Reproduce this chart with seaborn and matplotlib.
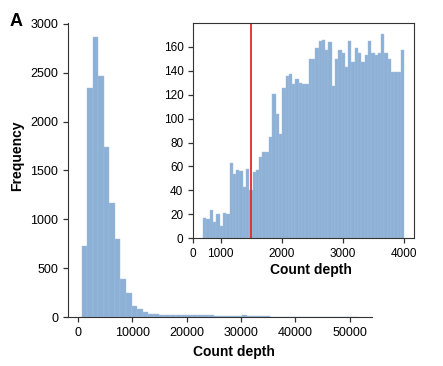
import numpy as np
import pandas as pd
import seaborn as sns
from matplotlib import pyplot as plt

# main histogram: 50 bins of ~1016 reads starting at 716
main_bin_start = 716
main_bin_end = 51516
main_counts = [731, 2347, 2863, 2462, 1735, 1166, 802, 394, 248, 119,
               85, 50, 35, 30, 25, 22, 22, 22, 28, 28,
               24, 22, 20, 20, 18, 18, 16, 16, 18, 20,
               14, 12, 14, 12, 8, 6, 4, 3, 3, 2,
               2, 2, 1, 1, 1, 1, 1, 1, 0, 1]

# inset: cells with count depth <= 4000
inset_bin_start = 716
inset_bin_end = 4000
inset_counts = [17, 16, 24, 14, 20, 10, 21, 20, 63, 54, 57, 56, 43, 58, 40,
                55, 57, 68, 72, 72, 85, 121, 104, 87, 126, 136,
                137, 129, 133, 130, 129, 129, 150, 150, 159, 165, 166, 157,
                164, 127, 150, 157, 155, 143, 165, 147, 159, 155, 147, 153,
                165, 155, 153, 155, 171, 155, 150, 139, 139, 139, 157]
cutoff = 1500

main_ticks_x = [0, 10000, 20000, 30000, 40000, 50000]
main_ticks_y = [0, 500, 1000, 1500, 2000, 2500, 3000]
inset_ticks_x = [1000, 2000, 3000, 4000]
inset_ticks_y = [0, 20, 40, 60, 80, 100, 120, 140, 160]

sns.set_style("ticks")
plt.rcParams['font.family'] = ['Liberation Sans', 'DejaVu Sans']
plt.rcParams['axes.edgecolor'] = '#333333'
plt.rcParams['xtick.color'] = '#333333'
plt.rcParams['ytick.color'] = '#333333'
plt.rcParams['xtick.labelcolor'] = 'black'
plt.rcParams['ytick.labelcolor'] = 'black'
plt.rcParams['text.color'] = 'black'
plt.rcParams['axes.labelcolor'] = 'black'

bar_color = '#8db0d6'
edge_color = '#a4c0df'

main_edges = np.linspace(main_bin_start, main_bin_end, len(main_counts) + 1)
main_df = pd.DataFrame({'depth': (main_edges[:-1] + main_edges[1:]) / 2,
                        'n': main_counts})
inset_edges = np.linspace(inset_bin_start, inset_bin_end, len(inset_counts) + 1)
inset_df = pd.DataFrame({'depth': (inset_edges[:-1] + inset_edges[1:]) / 2,
                         'n': inset_counts})

fig = plt.figure(figsize=(4.43, 3.66), dpi=100)

# MAIN
ax = fig.add_axes([0.1535, 0.133, 0.6856, 0.804])
sns.histplot(data=main_df, x='depth', weights='n', bins=main_edges.tolist(), ax=ax,
             color=bar_color, edgecolor=edge_color, linewidth=0.3, alpha=1)
ax.set_xticks(main_ticks_x)
ax.set_yticks(main_ticks_y)
ax.set_ylim(0, 3006)
ax.tick_params(labelsize=9, length=3.5, width=0.9)
ax.set_xlabel('Count depth', fontsize=10, fontweight='bold')
ax.set_ylabel('Frequency', fontsize=10, fontweight='bold')
ax.xaxis.set_label_coords(0.547, -0.095)
ax.yaxis.set_label_coords(-0.145, 0.548)
sns.despine(ax=ax)

# INSET
ins = fig.add_axes([0.436, 0.349, 0.499, 0.587])
sns.histplot(data=inset_df, x='depth', weights='n', bins=inset_edges.tolist(), ax=ins,
             color=bar_color, edgecolor=edge_color, linewidth=0.3, alpha=1)
ins.axvline(cutoff, color='#e8282b', linewidth=1.3)
ins.margins(x=0.05)
left, right = ins.get_xlim()
ins.set_xticks([left] + inset_ticks_x)
ins.set_xticklabels(['0'] + [str(t) for t in inset_ticks_x])
ins.set_xlim(left, right)
ins.set_yticks(inset_ticks_y)
ins.set_ylim(0, 179.6)
ins.tick_params(labelsize=8.5, length=3.5, width=0.9)
ins.set_xlabel('Count depth', fontsize=10, fontweight='bold')
ins.xaxis.set_label_coords(0.532, -0.115)
ins.set_ylabel('')

fig.text(0.022, 0.928, 'A', fontsize=13, fontweight='bold')

fig.savefig('out.png', dpi=100)
